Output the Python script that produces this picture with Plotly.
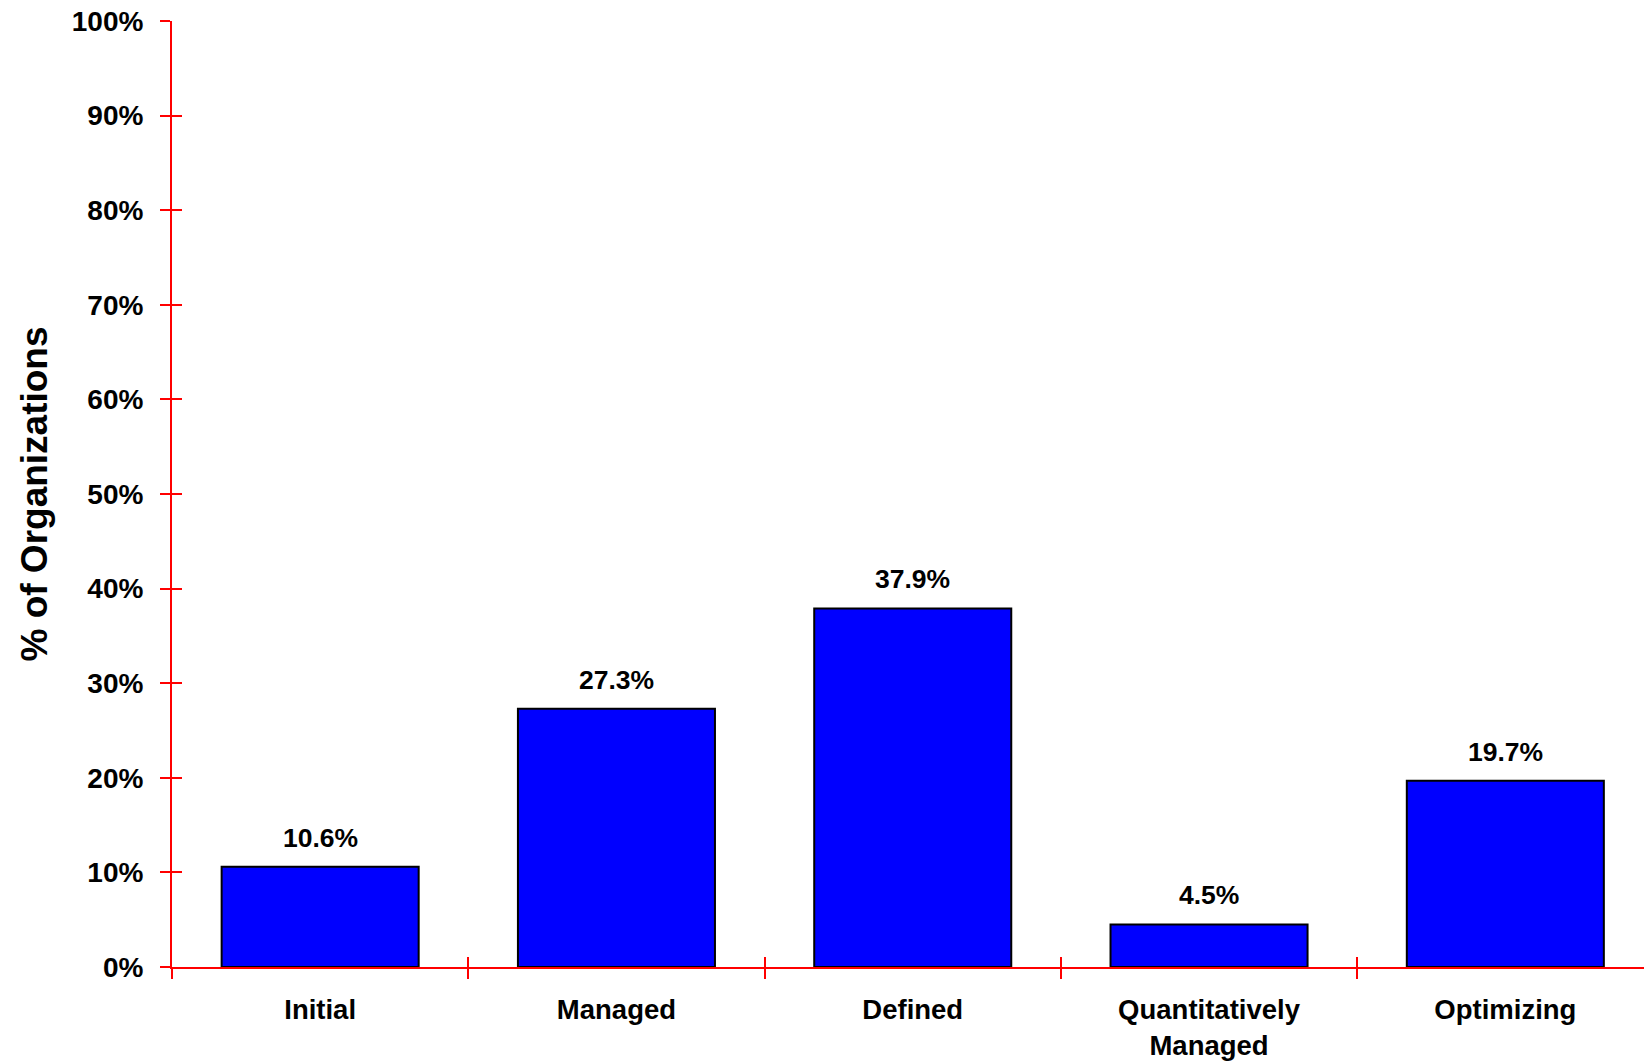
import plotly.graph_objects as go

categories = ["Initial", "Managed", "Defined", "Quantitatively<br>Managed", "Optimizing"]
values = [10.6, 27.3, 37.9, 4.5, 19.7]
value_labels = ["10.6%", "27.3%", "37.9%", "4.5%", "19.7%"]
y_ticks = [0, 10, 20, 30, 40, 50, 60, 70, 80, 90, 100]
y_tick_labels = [f"{v}%" for v in y_ticks]

FONT = "Arial, 'Liberation Sans', sans-serif"
RED = "#FF0000"

fig = go.Figure()
fig.add_trace(go.Bar(
    x=categories, y=values,
    width=0.665,
    marker=dict(color="#0000FF", line=dict(color="#000000", width=2)),
    hoverinfo="skip",
))

for c, v, t in zip(categories, values, value_labels):
    fig.add_annotation(x=c, y=v, text=f"<b>{t}</b>", showarrow=False,
                       yanchor="bottom", yshift=12,
                       font=dict(family=FONT, size=26.5, color="black"))

# invisible trace for overlay axes (crossing tick marks)
fig.add_trace(go.Bar(x=categories, y=[0] * len(categories), xaxis="x2", yaxis="y2",
                     hoverinfo="skip", showlegend=False, marker=dict(opacity=0)))

xr = [-0.5, 4.468]
fig.update_layout(
    width=1644, height=1061,
    margin=dict(l=172, r=0, t=21, b=94),
    paper_bgcolor="white", plot_bgcolor="white",
    showlegend=False,
    xaxis=dict(
        type="category", range=xr,
        tickmode="array", tickvals=categories,
        ticktext=[f"<b>{c.replace('<br>', '</b><br><b>')}</b>" for c in categories],
        tickson="boundaries",
        ticks="outside", ticklen=10, tickwidth=2, tickcolor=RED,
        showline=True, linecolor=RED, linewidth=2,
        showgrid=False, zeroline=False, automargin=False,
        tickfont=dict(family=FONT, size=27.5, color="black"),
        ticklabelstandoff=17, ticklabeloverflow="allow",
    ),
    xaxis2=dict(
        type="category", range=xr, overlaying="x",
        tickmode="array", tickvals=categories,
        ticktext=["" for _ in categories],
        tickson="boundaries",
        ticks="inside", ticklen=10, tickwidth=2, tickcolor=RED,
        showgrid=False, zeroline=False, showline=False, automargin=False,
    ),
    yaxis=dict(
        range=[0, 100],
        tickmode="array", tickvals=y_ticks,
        ticktext=[f"<b>{t}</b>" for t in y_tick_labels],
        ticks="outside", ticklen=10, tickwidth=2, tickcolor=RED,
        showline=True, linecolor=RED, linewidth=2,
        showgrid=False, zeroline=False, automargin=False,
        tickfont=dict(family=FONT, size=28, color="black"),
        ticklabelstandoff=11, ticklabeloverflow="allow",
        title=dict(text="<b>% of Organizations</b>",
                   font=dict(family=FONT, size=37, color="black"),
                   standoff=13),
    ),
    yaxis2=dict(
        range=[0, 100], overlaying="y",
        tickmode="array", tickvals=y_ticks, ticktext=["" for _ in y_ticks],
        ticks="inside", ticklen=10, tickwidth=2, tickcolor=RED,
        showgrid=False, zeroline=False, showline=False, automargin=False,
    ),
)

fig.write_html("out.html",
               config={"displayModeBar": False, "staticPlot": True},
               post_script="document.body.style.margin='0';document.body.style.overflow='hidden';")
